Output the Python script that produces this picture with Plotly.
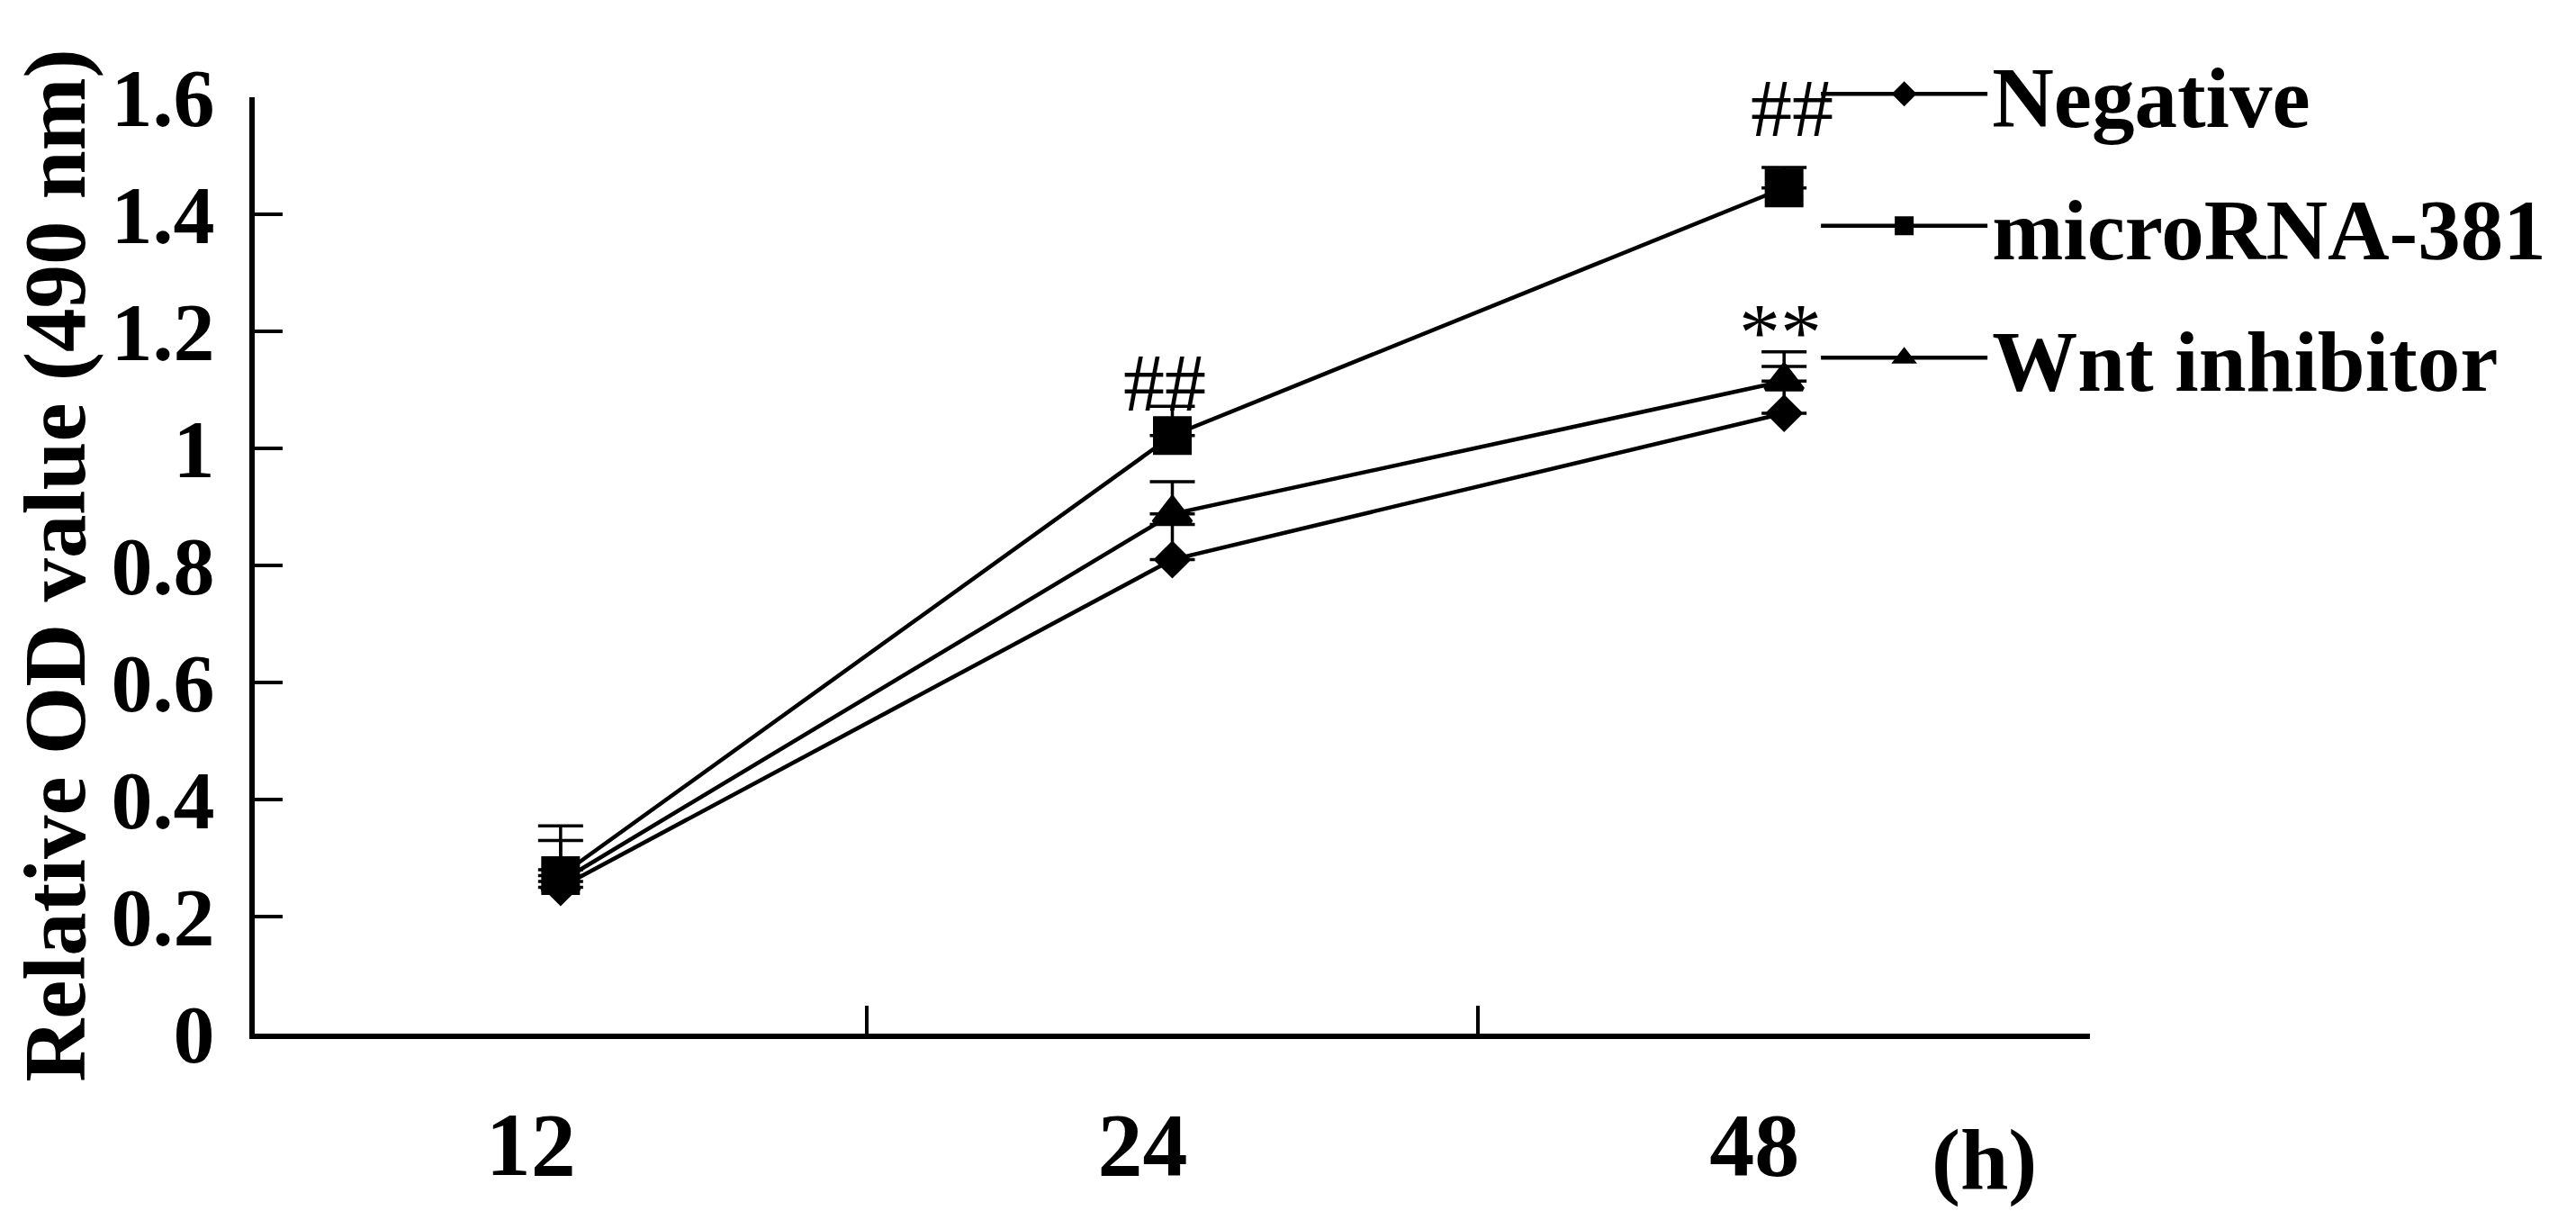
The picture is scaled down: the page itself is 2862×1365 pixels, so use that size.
import plotly.graph_objects as go

# ---------------- data ----------------
hours = ["12", "24", "48"]
negative = [0.25, 0.81, 1.06]
negative_err = [0.03, 0.06, 0.08]
mirna = [0.27, 1.022, 1.445]
mirna_err = [0.085, 0.05, 0.035]
wnt = [0.26, 0.888, 1.115]
wnt_err = [0.07, 0.055, 0.05]

y_tick_vals = [0, 0.2, 0.4, 0.6, 0.8, 1.0, 1.2, 1.4, 1.6]
y_tick_text = ["0", "0.2", "0.4", "0.6", "0.8", "1", "1.2", "1.4", "1.6"]

# significance marks (category index, value, text)
sig_x = [0.988, 2.013, 1.994]
sig_y = [1.112, 1.582, 1.198]
sig_text = ["##", "##", "**"]

FONT = "Liberation Serif, Times New Roman, serif"

series = [
    ("Negative", negative, negative_err, "diamond", 27),
    ("microRNA-381", mirna, mirna_err, "square", 38),
    ("Wnt inhibitor", wnt, wnt_err, "triangle-up", 36),
]

fig = go.Figure()
for name, vals, errs, sym, size in series:
    fig.add_trace(go.Scatter(
        x=hours, y=vals, name=name, mode="lines+markers",
        line=dict(color="black", width=4.5),
        marker=dict(symbol=sym, size=size, color="black",
                    line=dict(color="black", width=5)),
        error_y=dict(type="data", array=errs, symmetric=False,
                     arrayminus=[0] * len(errs),
                     color="black", thickness=3.5, width=25),
        legendgroup=name,
    ))

for xx, yy, tt in zip(sig_x, sig_y, sig_text):
    fig.add_annotation(x=xx, y=yy, xref="x", yref="y", text=tt,
                       showarrow=False, xanchor="center", yanchor="middle",
                       font=dict(family=FONT, size=92, color="black"))

fig.add_annotation(x=0.9426, y=-0.1337, xref="paper", yref="paper",
                   text="(h)", showarrow=False,
                   xanchor="center", yanchor="middle",
                   font=dict(family=FONT, size=96, color="black", weight="bold"))

fig.update_layout(
    width=2846, height=1349,
    margin=dict(l=275, r=532, t=100, b=209, autoexpand=False),
    paper_bgcolor="white", plot_bgcolor="white",
    font=dict(family=FONT, color="black"),
    showlegend=True,
    legend=dict(
        xref="container", yref="container",
        x=0.7063, y=0.9792, xanchor="left", yanchor="top",
        font=dict(family=FONT, size=95, color="black", weight="bold"),
        itemwidth=185, traceorder="grouped", tracegroupgap=20,
        bgcolor="rgba(0,0,0,0)",
    ),
)

fig.update_xaxes(
    type="category", range=[-0.5, 2.5], tickson="boundaries",
    ticks="inside", ticklen=31, tickwidth=3.5, tickcolor="black",
    showline=True, linecolor="black", linewidth=6,
    showgrid=False, zeroline=False,
    tickfont=dict(family=FONT, size=100, color="black", weight="bold"),
    ticklabelstandoff=31, ticklabelshift=-33,
)
fig.update_yaxes(
    range=[0, 1.6], tickvals=y_tick_vals, ticktext=y_tick_text,
    ticks="inside", ticklen=31, tickwidth=3.5, tickcolor="black",
    showline=True, linecolor="black", linewidth=6,
    showgrid=False, zeroline=False,
    tickfont=dict(family=FONT, size=92, color="black", weight="bold"),
    ticklabelstandoff=20,
    title=dict(text="Relative OD value (490 nm)",
               font=dict(family=FONT, size=97, color="black", weight="bold"),
               standoff=36),
)

fig.write_html("out.html")
